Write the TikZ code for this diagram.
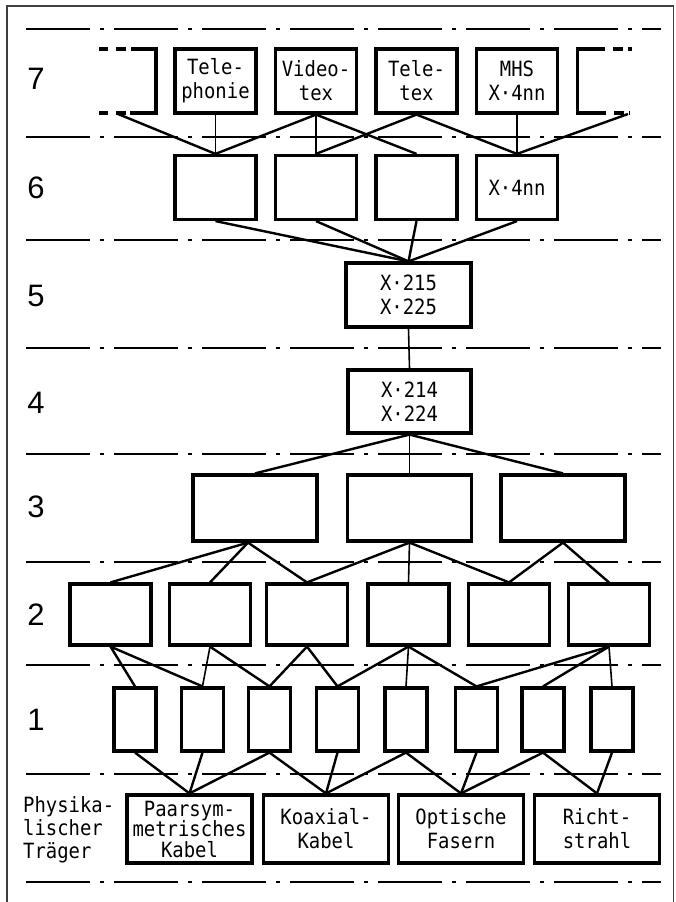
\documentclass[tikz,border=0pt]{standalone}
\usepackage{fontspec}
\newfontfamily\twfont{DejaVu Sans Mono}[FakeStretch=0.9]
\newfontfamily\numfont{Liberation Sans}
\begin{document}
\begin{tikzpicture}[x=1pt,y=-1pt,
  layerbox/.style={draw, line width=3.2pt, inner sep=0pt, align=center,
    font=\twfont\fontsize{21}{24}\selectfont},
  smallbox/.style={layerbox, minimum width=81pt, minimum height=64pt},
  widebox/.style={layerbox, minimum width=125pt, minimum height=65pt},
  tinybox/.style={layerbox, minimum width=42pt, minimum height=63pt},
  physbox/.style={layerbox, minimum width=125pt, minimum height=68pt},
  conn/.style={line width=2.4pt},
  vconn/.style={line width=1.6pt},
  layerline/.style={line width=2.2pt, dash pattern=on 64pt off 10pt on 4pt off 10pt},
  partial/.style={line width=3.2pt},
  partialdash/.style={line width=3.2pt, dash pattern=on 9pt off 8pt on 10pt off 5pt},
  numlabel/.style={font=\numfont\fontsize{31}{31}\selectfont, inner sep=0pt},
  twlabel/.style={font=\twfont\fontsize{21}{23}\selectfont, inner sep=0pt, align=left}
]
\useasboundingbox (0,0) rectangle (675,902);
\fill[white] (0,0) rectangle (675,902);
% frame
\draw[line width=1.6pt, black!75] (7,902) -- (7,6) -- (673.5,6) -- (673.5,902);

% layer separators
\foreach \yy in {29,137,240,348,454,562,665,774,882}
  \draw[layerline] (26,\yy) -- (661,\yy);

% layer numbers
\node[numlabel] (n7) at (36,79) {7};
\node[numlabel] (n6) at (36,188) {6};
\node[numlabel] (n5) at (36,296) {5};
\node[numlabel] (n4) at (36,403) {4};
\node[numlabel] (n3) at (36,507) {3};
\node[numlabel] (n2) at (36,615) {2};
\node[numlabel] (n1) at (36,720) {1};
\node[twlabel, anchor=west] (pt) at (23,830) {Physika-\\lischer\\Träger};

% layer 7
\node[smallbox] (t1) at (215.5,81) {Tele-\\phonie};
\node[smallbox] (t2) at (316,81) {Video-\\tex};
\node[smallbox] (t3) at (416.5,81) {Tele-\\tex};
\node[smallbox] (t4) at (517,81) {MHS\\X·4nn};
% partial boxes
\draw[partialdash] (99,49) -- (132,49);
\draw[partial] (132,49) -- (156,49) -- (156,113) -- (130,113);
\draw[partialdash] (99,113) -- (130,113);
\draw[partial] (596,49) -- (577.5,49) -- (577.5,113) -- (597,113);
\draw[partialdash] (596,49) -- (632,49);
\draw[partialdash] (597,113) -- (630,113);
\coordinate (pl) at (118,114);
\coordinate (pr) at (628,114);

% layer 6
\node[smallbox] (s1) at (215.5,187.5) {};
\node[smallbox] (s2) at (316,187.5) {};
\node[smallbox] (s3) at (416.5,187.5) {};
\node[smallbox] (s4) at (517,187.5) {X·4nn};

% layer 5 and 4
\node[widebox, minimum height=64pt] (f) at (408.5,295) {X·215\\X·225};
\node[widebox, minimum width=123pt, minimum height=63pt] (v) at (409.5,401.5) {X·214\\X·224};

% layer 3
\node[widebox, minimum width=124pt, minimum height=66pt] (d1) at (255,508) {};
\node[widebox, minimum width=124pt, minimum height=66pt] (d2) at (409.5,508) {};
\node[widebox, minimum width=124pt, minimum height=66pt] (d3) at (563,508) {};

% layer 2
\node[smallbox, minimum height=61pt] (z1) at (110.5,614.5) {};
\node[smallbox, minimum height=61pt] (z2) at (210,614.5) {};
\node[smallbox, minimum height=61pt] (z3) at (307,614.5) {};
\node[smallbox, minimum height=61pt] (z4) at (408.5,614.5) {};
\node[smallbox, minimum height=61pt] (z5) at (509,614.5) {};
\node[smallbox, minimum height=61pt] (z6) at (609,614.5) {};

% layer 1
\node[tinybox] (e1) at (135,719.5) {};
\node[tinybox] (e2) at (202.5,719.5) {};
\node[tinybox] (e3) at (269.5,719.5) {};
\node[tinybox] (e4) at (337.5,719.5) {};
\node[tinybox] (e5) at (406,719.5) {};
\node[tinybox] (e6) at (476.5,719.5) {};
\node[tinybox] (e7) at (543,719.5) {};
\node[tinybox] (e8) at (612,719.5) {};

% physical media
\node[physbox, font=\twfont\fontsize{21}{20.5}\selectfont] (p1) at (189.5,829) {Paarsym-\\metrisches\\Kabel};
\node[physbox] (p2) at (326,829) {Koaxial-\\Kabel};
\node[physbox] (p3) at (461,829) {Optische\\Fasern};
\node[physbox] (p4) at (597,829) {Richt-\\strahl};

% connectors 7 -> 6
\draw[conn] (pl) -- (s1.north);
\draw[vconn] (t1.south) -- (s1.north);
\draw[conn] (t2.south) -- (s1.north);
\draw[vconn] (t2.south) -- (s2.north);
\draw[conn] (t2.south) -- (s3.north);
\draw[conn] (t3.south) -- (s2.north);
\draw[conn] (t3.south) -- (s4.north);
\draw[vconn] (t4.south) -- (s4.north);
\draw[conn] (pr) -- (s4.north);

% 6 -> 5
\foreach \b in {s1,s2,s3,s4}
  \draw[conn] (\b.south) -- (f.north);
% 5 -> 4
\draw[vconn] (f.south) -- (v.north);
% 4 -> 3
\draw[conn] (v.south) -- (d1.north);
\draw[vconn] (v.south) -- (d2.north);
\draw[conn] (v.south) -- (d3.north);

% 3 -> 2
\coordinate (d1b) at ([xshift=-7pt]d1.south);
\draw[conn] (d1b) -- (z1.north);
\draw[conn] (d1b) -- (z2.north);
\draw[conn] (d1b) -- (z3.north);
\draw[conn] (d2.south) -- (z3.north);
\draw[vconn] (d2.south) -- (z4.north);
\draw[conn] (d2.south) -- (z5.north);
\draw[conn] (d3.south) -- (z5.north);
\draw[conn] (d3.south) -- (z6.north);

% 2 -> 1
\draw[conn] (z1.south) -- (e1.north);
\draw[conn] (z1.south) -- (e2.north);
\draw[vconn] (z2.south) -- (e2.north);
\draw[conn] (z2.south) -- (e3.north);
\draw[conn] (z3.south) -- (e3.north);
\draw[conn] (z3.south) -- (e4.north);
\draw[conn] (z4.south) -- (e4.north);
\draw[vconn] (z4.south) -- (e5.north);
\draw[conn] (z4.south) -- (e6.north);
\draw[conn] (z6.south) -- (e6.north);
\draw[conn] (z6.south) -- (e7.north);
\draw[vconn] (z6.south) -- (e8.north);

% 1 -> physical
\draw[conn] (e1.south) -- (p1.north);
\draw[conn] (e2.south) -- (p1.north);
\draw[conn] (e3.south) -- (p1.north);
\draw[conn] (e3.south) -- (p2.north);
\draw[conn] (e4.south) -- (p2.north);
\draw[conn] (e5.south) -- (p2.north);
\draw[conn] (e5.south) -- (p3.north);
\draw[conn] (e6.south) -- (p3.north);
\draw[conn] (e7.south) -- (p3.north);
\draw[conn] (e7.south) -- (p4.north);
\draw[conn] (e8.south) -- (p4.north);
\end{tikzpicture}
\end{document}
